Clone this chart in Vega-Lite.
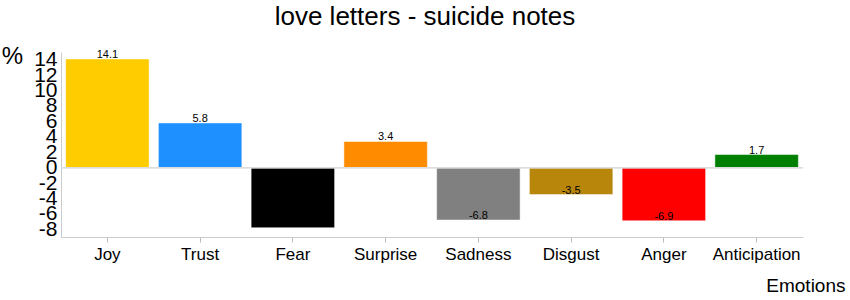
{
  "$schema": "https://vega.github.io/schema/vega-lite/v6.json",
  "autosize": "none",
  "width": 742,
  "height": 185,
  "padding": {"left": 61, "top": 52, "right": 47, "bottom": 63},
  "background": "white",
  "config": {"view": {"stroke": null}, "font": "Liberation Sans"},
  "title": {"text": "love letters - suicide notes", "fontSize": 26, "fontWeight": "normal", "font": "Liberation Sans", "anchor": "middle", "dx": -7, "offset": 14, "color": "black"},
  "data": {"values": [
    {"emotion": "Joy", "value": 14.1, "color": "#FFCC00"},
    {"emotion": "Trust", "value": 5.8, "color": "#1E90FF"},
    {"emotion": "Fear", "value": -7.8, "color": "#000000"},
    {"emotion": "Surprise", "value": 3.4, "color": "#FF8C00"},
    {"emotion": "Sadness", "value": -6.8, "color": "#808080"},
    {"emotion": "Disgust", "value": -3.5, "color": "#B8860B"},
    {"emotion": "Anger", "value": -6.9, "color": "#FF0000"},
    {"emotion": "Anticipation", "value": 1.7, "color": "#008000"}
  ]},
  "encoding": {
    "x": {"field": "emotion", "type": "nominal", "sort": null,
      "scale": {"paddingInner": 0.1, "paddingOuter": 0.05},
      "axis": {"title": "Emotions", "titleFontSize": 19, "titleFontWeight": "normal", "titleAnchor": "end", "titleAlign": "right", "titleX": 784, "titleY": 54, "titleBaseline": "alphabetic", "titleColor": "black",
        "labelAngle": 0, "labelFontSize": 17, "labelColor": "black", "labelPadding": 4, "tickSize": 5, "tickColor": "#bbbbbb", "domainColor": "#cccccc"}},
    "y": {"field": "value", "type": "quantitative",
      "scale": {"domain": [-9, 15], "nice": false, "zero": false},
      "axis": {"title": "%", "titleAngle": 0, "titleFontSize": 24, "titleFontWeight": "normal", "titleX": -49, "titleY": 4, "titleAlign": "center", "titleBaseline": "middle", "titleColor": "black",
        "values": [-8, -6, -4, -2, 0, 2, 4, 6, 8, 10, 12, 14], "labelExpr": "replace(datum.label, '\u2212', '-')", "labelOverlap": false, "labelFontSize": 21, "labelColor": "black", "labelPadding": 4, "ticks": false, "grid": false, "domainColor": "#cccccc", "labelBaseline": "middle"}}
  },
  "layer": [
    {"mark": {"type": "bar", "stroke": "white", "strokeWidth": 0.5}, "encoding": {"y2": {"datum": 0}, "color": {"field": "color", "type": "nominal", "scale": null}}},
    {"mark": {"type": "rule", "color": "#dddddd"}, "encoding": {"y": {"datum": 0}, "x": null}},
    {"mark": {"type": "text", "baseline": "alphabetic", "dy": -1, "fontSize": 11, "color": "black"}, "encoding": {"text": {"field": "value", "type": "nominal"}}}
  ]
}
